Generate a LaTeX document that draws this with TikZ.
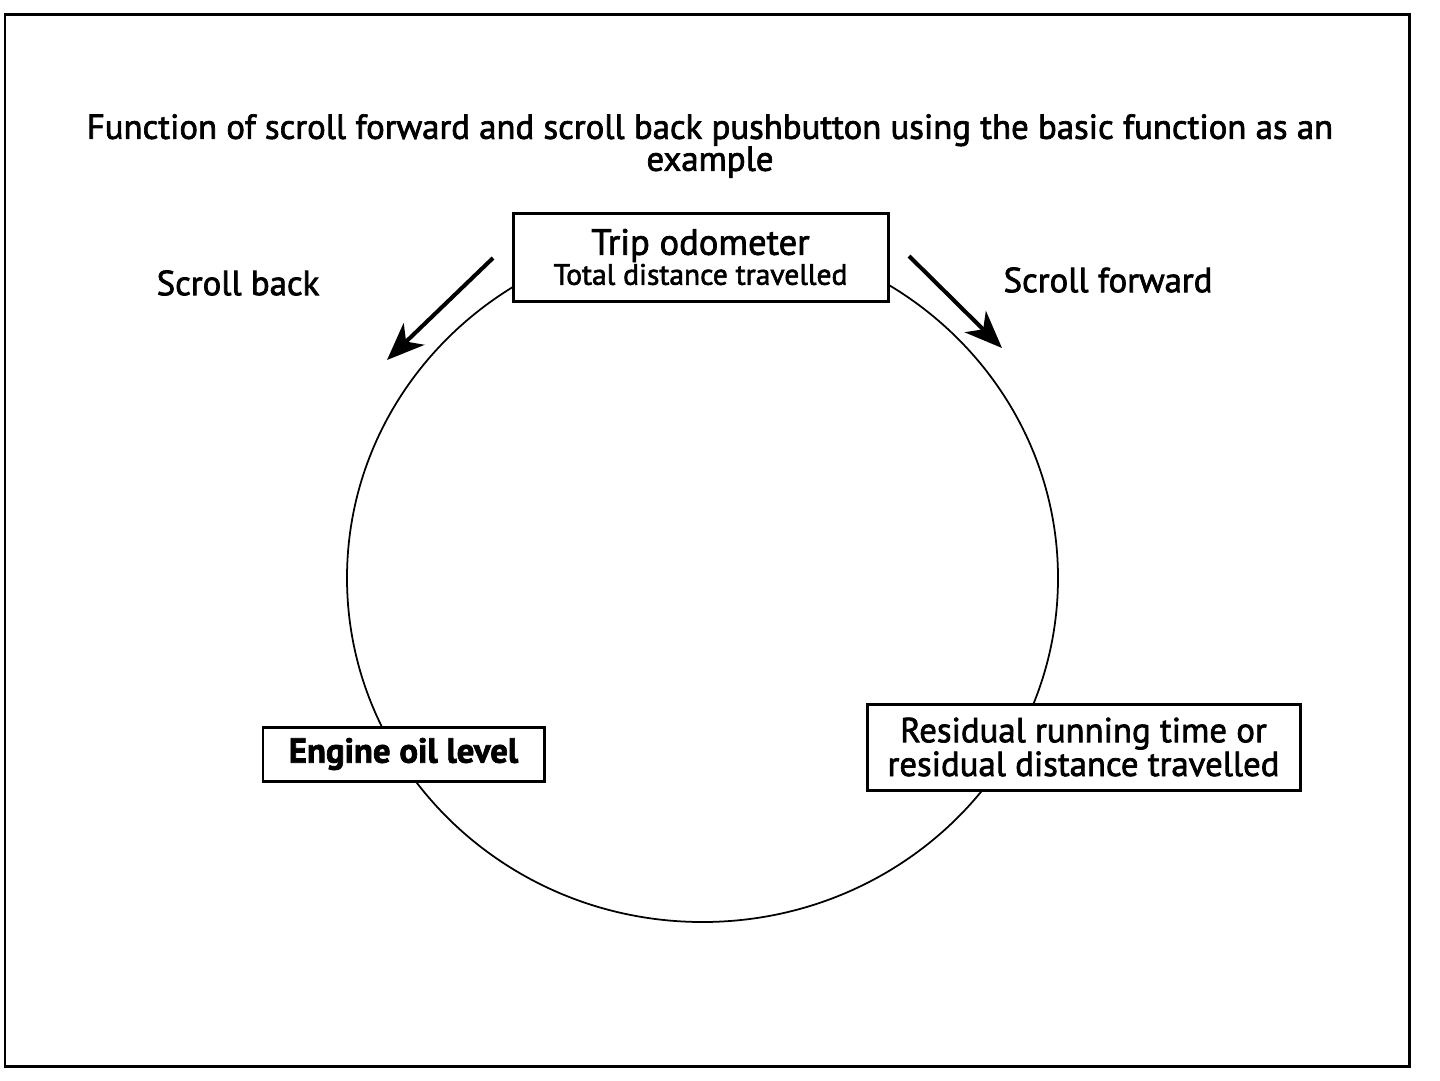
\documentclass[tikz,border=0pt]{standalone}
\usepackage{fontspec}
\setmainfont{PT Sans}[FakeBold=2]
\usetikzlibrary{positioning,arrows.meta}

\begin{document}
\begin{tikzpicture}[
  x=0.02cm, y=-0.02cm,
  every node/.style={align=center, inner sep=0pt},
  panel/.style ={draw, line width=1.7pt, fill=white},
  lbl/.style   ={font=\fontsize{19.8}{18.2}\selectfont},
  scroll/.style={-{Stealth[length=7.5mm, width=6mm, inset=2.2mm]}, line width=2.3pt},
  ring/.style  ={line width=1pt},
]
\useasboundingbox (0,0) rectangle (1440,1080);

% outer frame
\draw[line width=1.7pt] (5,14) rectangle (1409,1066);

\node[lbl] (title) at (710,146)
  {Function of scroll forward and scroll back pushbutton using the basic function as an\\ example};

% the cycle
\draw[ring] (702.5,578) ellipse [x radius=355.5, y radius=344];

\node[panel, minimum width=375*0.02cm, minimum height=88*0.02cm] (trip) at (700.5,257)
  {\fontsize{20.8}{19}\selectfont Trip odometer\\ \fontsize{16.8}{18.8}\selectfont Total distance travelled};
\node[panel, lbl, minimum width=281*0.02cm, minimum height=54*0.02cm] (oil) at (403.5,754)
  {\bfseries Engine oil level};
\node[panel, lbl, minimum width=433*0.02cm, minimum height=86*0.02cm] (residual) at (1083.5,747)
  {Residual running time or\\ residual distance travelled};

\node[lbl] (back) at (238,283) {Scroll back};
\node[lbl] (fwd) at (1108,280) {Scroll forward};

\coordinate (backA) at (493,258);
\coordinate (backB) at (387,360);
\coordinate (fwdA) at (909,256);
\coordinate (fwdB) at (1002,348);

\draw[scroll] (backA) -- (backB);
\draw[scroll] (fwdA) -- (fwdB);

\end{tikzpicture}
\end{document}
